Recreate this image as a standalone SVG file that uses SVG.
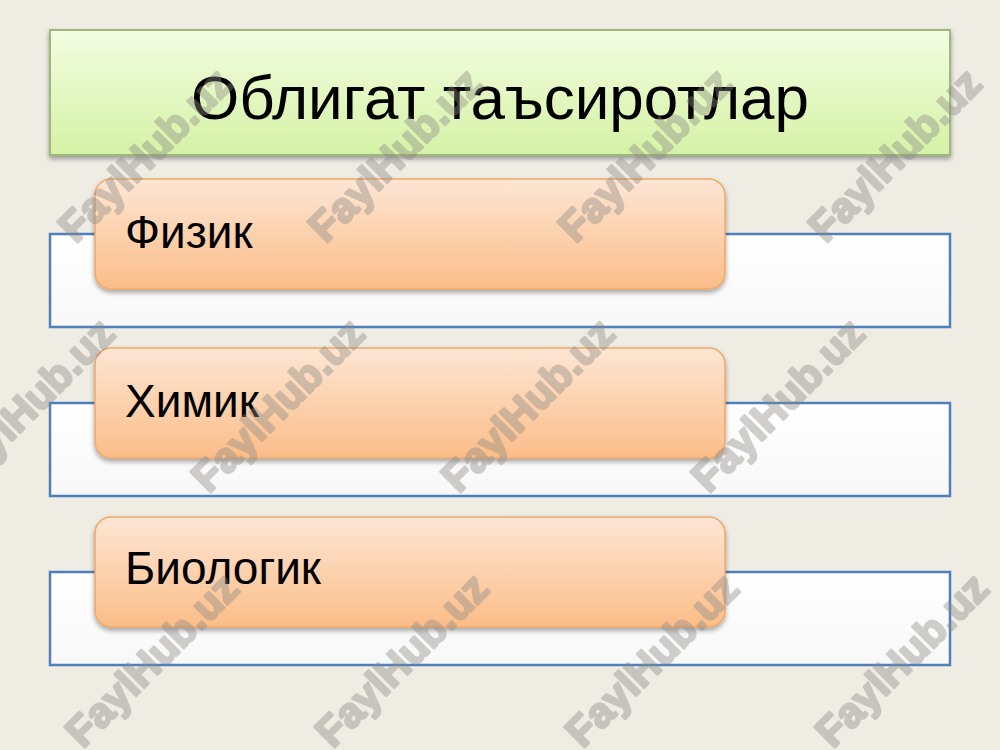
<svg xmlns="http://www.w3.org/2000/svg" width="1000" height="750" viewBox="0 0 1000 750">
  <defs>
    <linearGradient id="gTitle" x1="0" y1="0" x2="0" y2="1">
      <stop offset="0" stop-color="#f2fde0"/>
      <stop offset="1" stop-color="#d5f2a6"/>
    </linearGradient>
    <linearGradient id="gOrange" x1="0" y1="0" x2="0" y2="1">
      <stop offset="0" stop-color="#fde6d4"/>
      <stop offset="1" stop-color="#fbbd88"/>
    </linearGradient>
    <linearGradient id="gWhite" x1="0" y1="0" x2="0" y2="1">
      <stop offset="0" stop-color="#ffffff"/>
      <stop offset="1" stop-color="#f8f8f8"/>
    </linearGradient>
    <filter id="shadow" x="-5%" y="-10%" width="110%" height="130%">
      <feGaussianBlur in="SourceAlpha" stdDeviation="2.5"/>
      <feOffset dx="0" dy="3" result="b"/>
      <feComponentTransfer><feFuncA type="linear" slope="0.35"/></feComponentTransfer>
      <feMerge><feMergeNode/><feMergeNode in="SourceGraphic"/></feMerge>
    </filter>
  </defs>
  <style>
    .bg { fill: #eeece3; }
    .title { fill: url(#gTitle); stroke: #9fb77a; stroke-width: 2; }
    .band { fill: url(#gWhite); stroke: #4f7fbd; stroke-width: 2.5; }
    .tab { fill: url(#gOrange); stroke: #f0a867; stroke-width: 1.5; }
    .label { font-family: "Liberation Sans", Arial, sans-serif; fill: #000; }
    .wm { font-family: "Liberation Sans", Arial, sans-serif; font-weight: bold; font-size: 42px; fill: #8c8a84; stroke: #8c8a84; stroke-width: 2.5; stroke-linejoin: round; opacity: 0.4; text-anchor: middle; }
  </style>
  <rect class="bg" x="0" y="0" width="1000" height="750"/>

  <g id="title">
    <rect class="title" x="50" y="30" width="900" height="125" filter="url(#shadow)"/>
    <text class="label" x="500" y="119" font-size="62" text-anchor="middle">Облигат таъсиротлар</text>
  </g>

  <g id="node-fizik">
    <rect class="band" x="50" y="234" width="900" height="93"/>
    <rect class="tab" x="95" y="179" width="630" height="110" rx="16" filter="url(#shadow)"/>
    <text class="label" x="125" y="248" font-size="46">Физик</text>
  </g>

  <g id="node-ximik">
    <rect class="band" x="50" y="403" width="900" height="93"/>
    <rect class="tab" x="95" y="348" width="630" height="110" rx="16" filter="url(#shadow)"/>
    <text class="label" x="125" y="417" font-size="46">Химик</text>
  </g>

  <g id="node-biologik">
    <rect class="band" x="50" y="572" width="900" height="93"/>
    <rect class="tab" x="95" y="517" width="630" height="110" rx="16" filter="url(#shadow)"/>
    <text class="label" x="125" y="584" font-size="46">Биологик</text>
  </g>

  <g id="watermarks">
    <text class="wm" transform="translate(155,165) rotate(-45)">FaylHub.uz</text>
    <text class="wm" transform="translate(405,165) rotate(-45)">FaylHub.uz</text>
    <text class="wm" transform="translate(655,165) rotate(-45)">FaylHub.uz</text>
    <text class="wm" transform="translate(905,165) rotate(-45)">FaylHub.uz</text>
    <text class="wm" transform="translate(38,415) rotate(-45)">FaylHub.uz</text>
    <text class="wm" transform="translate(288,415) rotate(-45)">FaylHub.uz</text>
    <text class="wm" transform="translate(538,415) rotate(-45)">FaylHub.uz</text>
    <text class="wm" transform="translate(788,415) rotate(-45)">FaylHub.uz</text>
    <text class="wm" transform="translate(162,670) rotate(-45)">FaylHub.uz</text>
    <text class="wm" transform="translate(412,670) rotate(-45)">FaylHub.uz</text>
    <text class="wm" transform="translate(662,670) rotate(-45)">FaylHub.uz</text>
    <text class="wm" transform="translate(912,670) rotate(-45)">FaylHub.uz</text>
  </g>
</svg>
